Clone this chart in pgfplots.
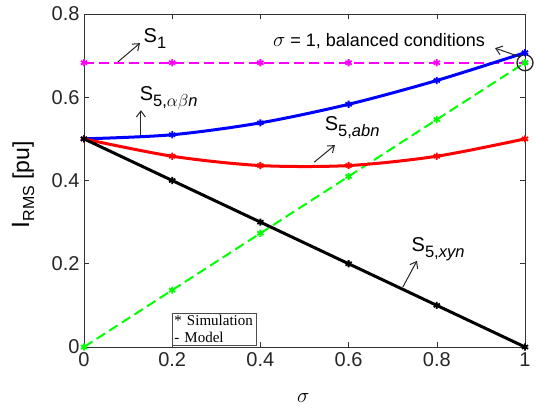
\documentclass[border=0pt]{standalone}
\usepackage{pgfplots}
\pgfplotsset{compat=1.18}
\usepackage{fontspec}
\setmainfont{Liberation Sans}
\newfontfamily\timesfont{Liberation Serif}
\usetikzlibrary{arrows.meta}
\definecolor{mmag}{RGB}{255,0,255}
\definecolor{mgreen}{RGB}{0,255,0}
\definecolor{mblue}{RGB}{0,0,255}
\definecolor{mred}{RGB}{255,0,0}
\newcommand{\Ssub}[1]{{\fontsize{20}{20}\selectfont S\raisebox{-6pt}{\fontsize{16.5}{16.5}\selectfont #1}}}
\begin{document}
\begin{tikzpicture}
\begin{axis}[
  scale only axis, width=441pt, height=333pt,
  xmin=0, xmax=1, ymin=0, ymax=0.8,
  xtick={0,0.2,0.4,0.6,0.8,1}, ytick={0,0.2,0.4,0.6,0.8},
  xticklabels={0,0.2,0.4,0.6,0.8,1},
  yticklabels={0,0.2,0.4,0.6,0.8},
  tick align=inside, major tick length=5pt,
  axis line style={black!80, line width=0.6pt},
  every tick/.style={black!80, line width=0.6pt},
  tick label style={font=\fontsize{20}{24}\selectfont, black!85},
  /pgf/number format/assume math mode=true,
  xticklabel style={yshift=-2pt},
  yticklabel style={xshift=-1pt},
  clip=false,
]
% S1 magenta
\addplot[mmag, line width=2pt, dash pattern=on 10pt off 5pt, mark=asterisk, mark size=3.6pt, mark options={solid, line width=1.8pt}]
 coordinates {(0,0.683) (0.2,0.683) (0.4,0.683) (0.6,0.683) (0.8,0.683) (1,0.683)};
% green dashed
\addplot[mgreen, line width=2pt, dash pattern=on 10pt off 5pt, mark=asterisk, mark size=3.6pt, mark options={solid, line width=1.8pt}]
 coordinates {(0,0) (0.2,0.1366) (0.4,0.2732) (0.6,0.4098) (0.8,0.5464) (1,0.683)};
% blue
\addplot[mblue, line width=3pt, smooth, mark=asterisk, mark size=3.6pt, mark options={line width=1.8pt}]
 coordinates {(0,0.5) (0.2,0.5099) (0.4,0.5385) (0.6,0.5831) (0.8,0.6403) (1,0.7071)};
% red
\addplot[mred, line width=3pt, smooth, mark=asterisk, mark size=3.6pt, mark options={line width=1.8pt}]
 coordinates {(0,0.5) (0.2,0.4583) (0.4,0.4359) (0.6,0.4359) (0.8,0.4583) (1,0.5)};
% black
\addplot[black, line width=3pt, mark=asterisk, mark size=3.6pt, mark options={line width=1.8pt}]
 coordinates {(0,0.5) (0.2,0.4) (0.4,0.3) (0.6,0.2) (0.8,0.1) (1,0)};

% annotations
\node at (axis cs:0.161,0.742) {\Ssub{1}};
\draw[black!85, line width=1pt, -{Straight Barb[length=6pt,width=9pt]}] (axis cs:0.077,0.685) -- (axis cs:0.127,0.730);
\node at (axis cs:0.192,0.598) {\Ssub{5,$\alpha\beta$\textit{n}}};
\draw[black!85, line width=1pt, -{Straight Barb[length=6pt,width=9pt]}] (axis cs:0.129,0.509) -- (axis cs:0.129,0.569);
\node at (axis cs:0.608,0.526) {\Ssub{5,\textit{abn}}};
\draw[black!85, line width=1pt, -{Straight Barb[length=6pt,width=9pt]}] (axis cs:0.522,0.444) -- (axis cs:0.569,0.485);
\node at (axis cs:0.803,0.235) {\Ssub{5,\textit{xyn}}};
\draw[black!85, line width=1pt, -{Straight Barb[length=6pt,width=9pt]}] (axis cs:0.723,0.144) -- (axis cs:0.755,0.207);
\node at (axis cs:0.669,0.735) {\fontsize{18}{18}\selectfont {\fontsize{22}{22}\selectfont$\sigma$} = 1, balanced conditions};
\draw[black!85, line width=1pt, -{Straight Barb[length=6pt,width=9pt]}] (axis cs:0.989,0.697) -- (axis cs:0.932,0.718);
\draw[black!85, line width=1.3pt] (axis cs:1,0.683) circle[radius=8pt];
% legend box
\node[draw=black!70, line width=0.6pt, fill=white, anchor=south west, align=left, inner sep=2pt, text width=80pt, font=\timesfont\fontsize{15}{17}\selectfont]
 at (axis cs:0.2,0.004) {* Simulation\\- Model};
% labels
\node[rotate=90] at ([xshift=-61pt]rel axis cs:0,0.487) {\fontsize{25}{25}\selectfont I\raisebox{-5pt}{\fontsize{16}{16}\selectfont RMS}\fontsize{23}{23}\selectfont{} [pu]};
\node at ([yshift=-51pt]rel axis cs:0.497,0) {\fontsize{21}{21}\selectfont $\sigma$};
\end{axis}
\pgfresetboundingbox
\path[use as bounding box] (-84pt,-63pt) rectangle (468pt,347pt);
\end{tikzpicture}
\end{document}
